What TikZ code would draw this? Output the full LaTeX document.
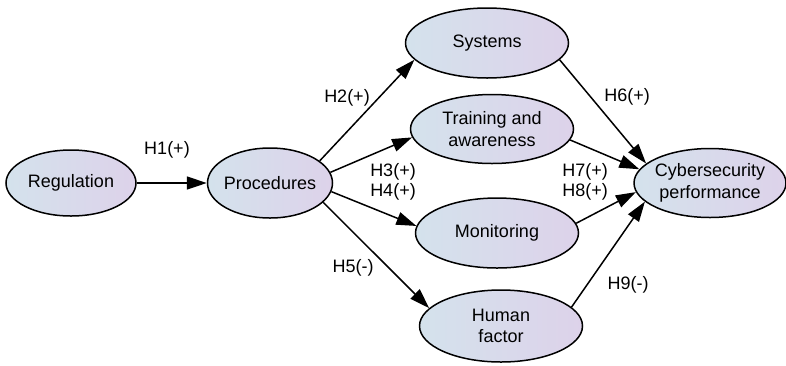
\documentclass[tikz,border=0pt]{standalone}
\usepackage{fontspec}
\setmainfont{Liberation Sans}
\usetikzlibrary{shapes.geometric,arrows.meta}
\definecolor{fillL}{RGB}{212,226,236}
\definecolor{fillR}{RGB}{221,210,234}
\begin{document}
\begin{tikzpicture}[x=1pt,y=-1pt,
  ell/.style={ellipse, draw=black, line width=1.5pt, left color=fillL, right color=fillR,
    inner xsep=-20pt, inner ysep=-12pt, align=center, font=\fontsize{18}{21.6}\selectfont},
  lab/.style={font=\fontsize{18}{21.6}\selectfont, inner sep=0pt},
  arr/.style={-{Triangle[length=20pt,width=13pt]}, line width=1.5pt}]
\useasboundingbox (0,0) rectangle (786,365);
\node[ell, minimum width=130pt, minimum height=66pt] (reg) at (71,183) {Regulation};
\node[ell, minimum width=125pt, minimum height=70pt] (proc) at (270,183) {Procedures};
\node[ell, minimum width=163pt, minimum height=70pt] (sys) at (487,43) {Systems};
\node[ell, minimum width=163pt, minimum height=69pt] (train) at (492,129) {Training and\\awareness};
\node[ell, minimum width=163pt, minimum height=70pt] (mon) at (497,233) {Monitoring};
\node[ell, minimum width=163pt, minimum height=72pt] (hum) at (501,326) {Human\\factor};
\node[ell, minimum width=152pt, minimum height=69pt] (cyb) at (710,183) {Cybersecurity\\performance};

\draw[arr] (reg.east) -- (proc.west);
\draw[arr] (proc.24) -- (sys.193);
\draw[arr] (proc.10) -- (train.186);
\draw[arr] (proc.-8) -- (mon.175);
\draw[arr] (proc.-20) -- (hum.166);
\draw[arr] (sys.-13) -- (cyb.163);
\draw[arr] (train.-8) -- (cyb.169);
\draw[arr] (mon.7) -- (cyb.187);
\draw[arr] (hum.15) -- (cyb.196);

\node[lab] (h1) at (167,150) {H1(+)};
\node[lab] (h2) at (347,98) {H2(+)};
\node[lab] (h3) at (393,172) {H3(+)};
\node[lab] (h4) at (393,192) {H4(+)};
\node[lab] (h5) at (353,268) {H5(-)};
\node[lab] (h6) at (627,97) {H6(+)};
\node[lab] (h7) at (585,172) {H7(+)};
\node[lab] (h8) at (585,192) {H8(+)};
\node[lab] (h9) at (628,285) {H9(-)};
\end{tikzpicture}
\end{document}
